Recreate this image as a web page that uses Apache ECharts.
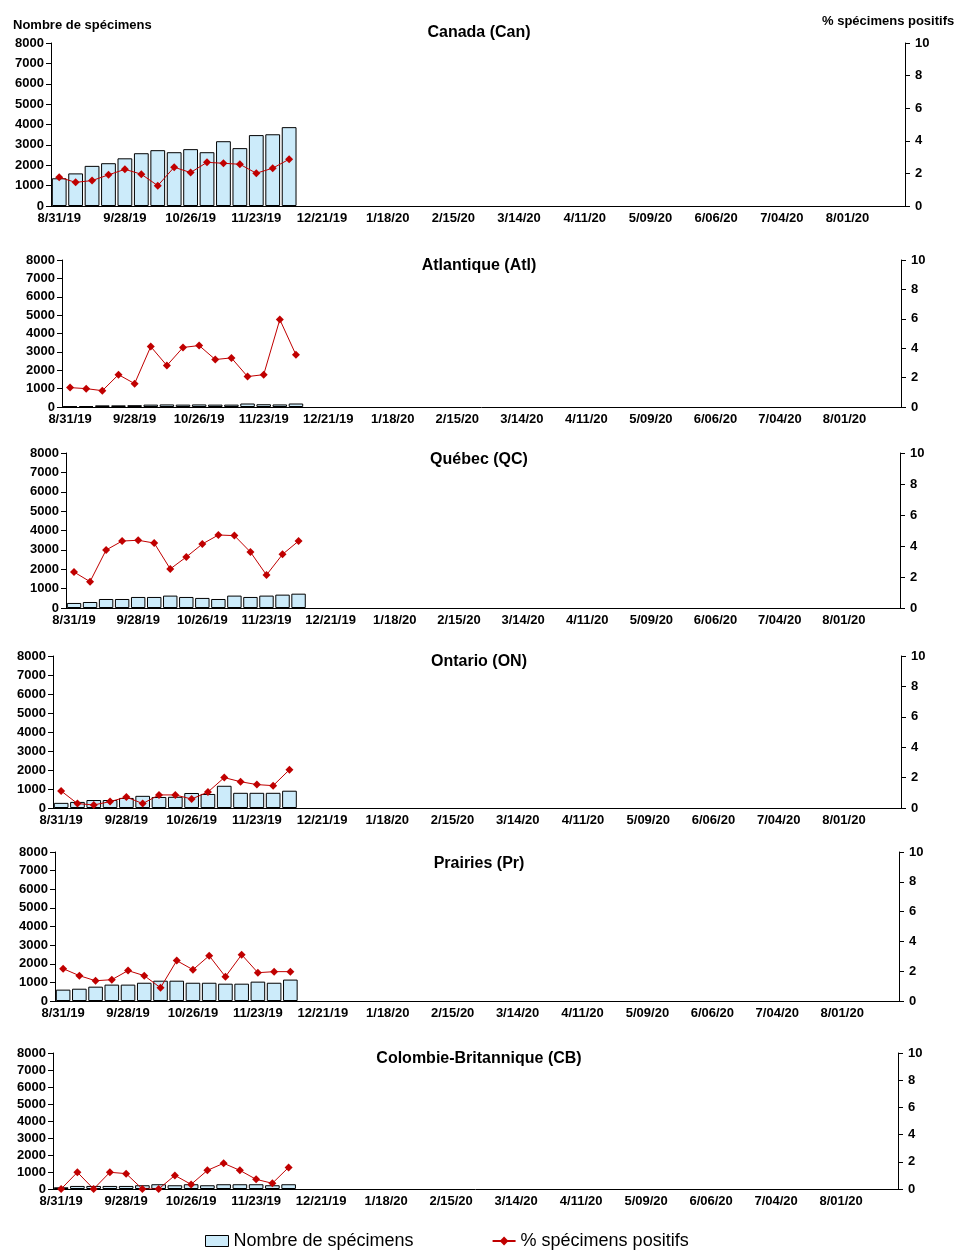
<!DOCTYPE html>
<html>
<head>
<meta charset="utf-8">
<script src="https://cdn.jsdelivr.net/npm/echarts@6/dist/echarts.min.js"></script>
<style>
  html, body { margin: 0; padding: 0; background: #fff; }
  #chart { width: 959px; height: 1260px; }
</style>
</head>
<body>
<div id="chart"></div>
<script>
// semaines (categories de l'axe x)
const weeks = [
  '8/31/19', '9/07/19', '9/14/19', '9/21/19', '9/28/19', '10/05/19', '10/12/19', '10/19/19',
  '10/26/19', '11/02/19', '11/09/19', '11/16/19', '11/23/19', '11/30/19', '12/07/19', '12/14/19',
  '12/21/19', '12/28/19', '1/04/20', '1/11/20', '1/18/20', '1/25/20', '2/01/20', '2/08/20',
  '2/15/20', '2/22/20', '2/29/20', '3/07/20', '3/14/20', '3/21/20', '3/28/20', '4/04/20',
  '4/11/20', '4/18/20', '4/25/20', '5/02/20', '5/09/20', '5/16/20', '5/23/20', '5/30/20',
  '6/06/20', '6/13/20', '6/20/20', '6/27/20', '7/04/20', '7/11/20', '7/18/20', '7/25/20',
  '8/01/20', '8/08/20', '8/15/20', '8/22/20'
];

const regions = ['Canada (Can)', 'Atlantique (Atl)', 'Québec (QC)', 'Ontario (ON)', 'Prairies (Pr)', 'Colombie-Britannique (CB)'];

// Nombre de spécimens
const canSpec = [1360, 1600, 1970, 2100, 2340, 2590, 2740, 2640, 2790, 2640, 3180, 2840, 3480, 3520, 3870];
const atlSpec = [40, 50, 90, 90, 100, 130, 140, 130, 140, 130, 130, 190, 150, 140, 190];
const qcSpec  = [260, 310, 465, 465, 570, 570, 640, 570, 520, 465, 640, 570, 640, 690, 740];
const onSpec  = [270, 320, 420, 420, 530, 640, 580, 590, 790, 740, 1170, 800, 800, 800, 910];
const prSpec  = [610, 660, 770, 880, 880, 980, 1090, 1090, 980, 980, 930, 930, 1040, 980, 1150];
const cbSpec  = [100, 180, 180, 180, 180, 220, 280, 220, 280, 220, 280, 280, 280, 220, 280];

// % spécimens positifs
const canPos = [1.76, 1.45, 1.56, 1.91, 2.25, 1.95, 1.25, 2.38, 2.05, 2.68, 2.62, 2.56, 2.01, 2.32, 2.87];
const atlPos = [1.32, 1.25, 1.11, 2.2, 1.59, 4.11, 2.82, 4.05, 4.18, 3.23, 3.34, 2.07, 2.2, 5.95, 3.55];
const qcPos  = [2.32, 1.70, 3.74, 4.32, 4.37, 4.19, 2.52, 3.29, 4.13, 4.71, 4.67, 3.61, 2.13, 3.46, 4.32];
const onPos  = [1.12, 0.29, 0.20, 0.42, 0.72, 0.29, 0.86, 0.86, 0.59, 1.05, 2.0, 1.73, 1.54, 1.47, 2.52];
const prPos  = [2.17, 1.70, 1.36, 1.43, 2.04, 1.70, 0.89, 2.71, 2.10, 3.04, 1.63, 3.11, 1.90, 1.97, 1.97];
const cbPos  = [0, 1.23, 0, 1.23, 1.13, 0, 0, 1.0, 0.34, 1.37, 1.89, 1.37, 0.71, 0.42, 1.59];

const specData = [canSpec, atlSpec, qcSpec, onSpec, prSpec, cbSpec];
const posData = [canPos, atlPos, qcPos, onPos, prPos, cbPos];

// position des graphiques (left, right, top, bottom, y du titre en px)
const boxes = [
  [51, 905, 43, 206, 33],
  [62, 901, 260, 407, 266],
  [66, 900, 453, 608, 460],
  [53, 901, 656, 808, 662],
  [55, 899, 852, 1001, 864],
  [53, 898, 1053, 1189, 1059]
];

const FONT = 'Liberation Sans, Arial, sans-serif';
const BAR_NAME = 'Nombre de spécimens';
const LINE_NAME = '% spécimens positifs';

const grid = [], xAxis = [], yAxis = [], series = [], titles = [];

boxes.forEach((b, i) => {
  grid.push({ left: b[0], top: b[2], width: b[1] - b[0], height: b[3] - b[2], containLabel: false });
  titles.push({
    type: 'text', x: 479, y: b[4],
    style: {
      text: regions[i], font: 'bold 16px ' + FONT, fill: '#000',
      textAlign: 'center', textVerticalAlign: 'middle'
    }
  });
  xAxis.push({
    type: 'category', gridIndex: i, data: weeks, boundaryGap: true,
    axisLine: { lineStyle: { color: '#000', width: 1 } },
    axisTick: { interval: 0, length: 4, lineStyle: { color: '#000' } },
    axisLabel: { interval: 3, margin: 6, color: '#000', fontFamily: FONT, fontSize: 13, fontWeight: 'bold' }
  });
  // ticks vers l'intérieur
  xAxis.push({
    type: 'category', gridIndex: i, data: weeks, position: 'bottom',
    axisLine: { show: false },
    axisTick: { interval: 0, inside: true, length: 4, lineStyle: { color: '#000' } },
    axisLabel: { show: false }
  });
  yAxis.push({
    type: 'value', gridIndex: i, min: 0, max: 8000, interval: 1000, position: 'left',
    axisLine: { show: true, lineStyle: { color: '#000' } },
    axisTick: { show: true, length: 5, lineStyle: { color: '#000' } },
    splitLine: { show: false },
    axisLabel: {
      margin: 7, color: '#000', fontFamily: FONT, fontSize: 13, fontWeight: 'bold',
      formatter: v => String(v)
    }
  });
  yAxis.push({
    type: 'value', gridIndex: i, min: 0, max: 10, interval: 2, position: 'right',
    axisLine: { show: true, lineStyle: { color: '#000' } },
    axisTick: { show: true, length: 5, lineStyle: { color: '#000' } },
    splitLine: { show: false },
    axisLabel: { margin: 10, color: '#000', fontFamily: FONT, fontSize: 13, fontWeight: 'bold' }
  });
  series.push({
    name: BAR_NAME, type: 'bar', xAxisIndex: i * 2, yAxisIndex: i * 2,
    data: specData[i], barCategoryGap: '10%',
    itemStyle: { color: '#CCEBFA', borderColor: '#000', borderWidth: 1 }
  });
  series.push({
    name: LINE_NAME, type: 'line', xAxisIndex: i * 2, yAxisIndex: i * 2 + 1,
    data: posData[i], symbol: 'diamond', symbolSize: 8,
    lineStyle: { color: '#C00000', width: 1 },
    itemStyle: { color: '#C00000' }
  });
});

const chart = echarts.init(document.getElementById('chart'));
chart.setOption({
  backgroundColor: '#fff',
  animation: false,
  grid: grid,
  xAxis: xAxis,
  yAxis: yAxis,
  series: series,
  legend: {
    left: 200, top: 1227, itemGap: 78, itemWidth: 23, itemHeight: 11,
    data: [
      { name: BAR_NAME, icon: 'rect', itemStyle: { color: '#CCEBFA', borderColor: '#000', borderWidth: 1 } },
      { name: LINE_NAME }
    ],
    textStyle: { fontFamily: FONT, fontSize: 18, color: '#000' }
  },
  graphic: titles.concat([
    { type: 'text', left: 13, top: 19, style: { text: BAR_NAME, font: 'bold 13px ' + FONT, fill: '#000' } },
    { type: 'text', left: 822, top: 15, style: { text: LINE_NAME, font: 'bold 13px ' + FONT, fill: '#000' } }
  ])
});
</script>
</body>
</html>
